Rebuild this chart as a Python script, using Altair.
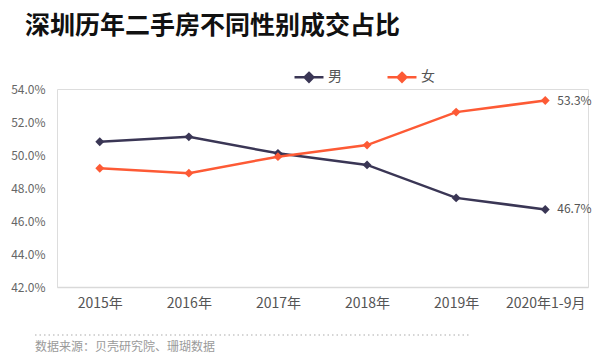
import altair as alt
import pandas as pd

years = ["2015年", "2016年", "2017年", "2018年", "2019年", "2020年1-9月"]
male = [50.8, 51.1, 50.1, 49.4, 47.4, 46.7]
female = [49.2, 48.9, 49.9, 50.6, 52.6, 53.3]
series = ["男", "女"]
colors = ["#3a3655", "#fd5a35"]
title_text = "深圳历年二手房不同性别成交占比"
source_text = "数据来源：贝壳研究院、珊瑚数据"
y_ticks = [0.42, 0.44, 0.46, 0.48, 0.50, 0.52, 0.54]

rows = []
for y, m, f in zip(years, male, female):
    rows.append({"year": y, "series": "男", "value": m / 100})
    rows.append({"year": y, "series": "女", "value": f / 100})
df = pd.DataFrame(rows)
last = df[df["year"] == years[-1]]

FONT = "Noto Sans CJK SC"

x_enc = alt.X("year:N", sort=years, title=None,
              scale=alt.Scale(type="point", padding=0.48),
              axis=alt.Axis(labelAngle=0, ticks=False, domainColor="#d9d9d9",
                            domainWidth=1.5, labelColor="#555555", labelFontSize=14,
                            labelPadding=9, labelFont=FONT, grid=False))
y_enc = alt.Y("value:Q", title=None,
              scale=alt.Scale(domain=[0.42, 0.54], nice=False, zero=False),
              axis=alt.Axis(format=".1%", values=y_ticks, labelOverlap=False,
                            grid=False, domain=False, ticks=False, labelColor="#666666",
                            labelFontSize=12, labelPadding=12, labelFont=FONT))
color_enc = alt.Color("series:N", sort=series,
                      scale=alt.Scale(domain=series, range=colors),
                      legend=alt.Legend(title=None, orient="none", direction="horizontal",
                                        legendX=236, legendY=-28,
                                        symbolType="M-1,0H1M0,-0.3L0.3,0L0,0.3L-0.3,0Z",
                                        symbolSize=840, symbolStrokeWidth=2.5,
                                        labelFontSize=14, labelColor="#555555",
                                        labelFont=FONT, columnPadding=40, labelOffset=3))

base = alt.Chart(df)
lines = base.mark_line(strokeWidth=2.5).encode(x=x_enc, y=y_enc, color=color_enc)
points = base.mark_point(shape="diamond", filled=True, size=80, opacity=1).encode(
    x=x_enc, y=y_enc, color=color_enc)
end_labels = alt.Chart(last).mark_text(align="left", dx=12, fontSize=12,
                                       color="#555555", font=FONT).encode(
    x=x_enc, y=y_enc,
    text=alt.Text("value:Q", format=".1%"))

title = alt.Chart(pd.DataFrame({"t": [title_text]})).mark_text(
    align="left", baseline="middle", fontSize=25, fontWeight="bold",
    color="#111111", font=FONT).encode(text="t:N", x=alt.value(-32), y=alt.value(-63))
source = alt.Chart(pd.DataFrame({"t": [source_text]})).mark_text(
    align="left", baseline="middle", fontSize=12, color="#9a9a9a",
    font=FONT).encode(text="t:N", x=alt.value(-22), y=alt.value(258))
dots = alt.Chart(pd.DataFrame({"t": [0]})).mark_rule(
    strokeDash=[1.5, 3], color="#c8c8c8", strokeWidth=1.5).encode(
    x=alt.value(-22), x2=alt.value(413), y=alt.value(246))

chart = alt.layer(lines, points, end_labels, title, source, dots).properties(
    width=531, height=198,
    autosize=alt.AutoSizeParams(type="none"),
    padding={"left": 49, "top": 81, "right": 4, "bottom": 68},
).configure_view(stroke=None).configure_axis(labelOverlap=False).configure(background="white")

chart.save("out.html", embed_options={"renderer": "svg", "actions": False})
